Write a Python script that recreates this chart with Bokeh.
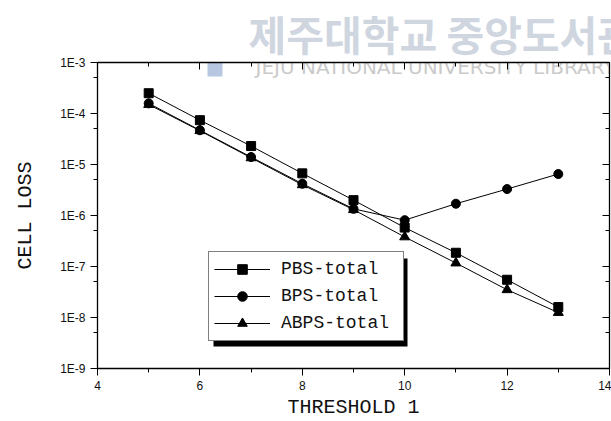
from bokeh.plotting import figure
from bokeh.models import (LinearAxis, LogAxis, Legend, LegendItem, FixedTicker,
                          CustomJSTickFormatter, BoxAnnotation, Label, Range1d, Title)
from bokeh.embed import file_html
from bokeh.resources import INLINE

# Cell loss versus threshold 1 for the three buffer schemes
threshold = [5, 6, 7, 8, 9, 10, 11, 12, 13]
pbs_total = [2.5e-4, 7.4e-5, 2.3e-5, 6.7e-6, 2.0e-6, 5.8e-7, 1.86e-7, 5.5e-8, 1.6e-8]
bps_total = [1.58e-4, 4.7e-5, 1.4e-5, 4.2e-6, 1.35e-6, 8.1e-7, 1.7e-6, 3.3e-6, 6.5e-6]
abps_total = [1.5e-4, 4.6e-5, 1.35e-5, 4.0e-6, 1.3e-6, 3.8e-7, 1.17e-7, 3.5e-8, 1.25e-8]

series_names = ["PBS-total", "BPS-total", "ABPS-total"]

x_ticks = [4, 6, 8, 10, 12, 14]
x_minor = [5, 7, 9, 11, 13]
y_ticks = [1e-9, 1e-8, 1e-7, 1e-6, 1e-5, 1e-4, 1e-3]
y_tick_labels = ["1E-9", "1E-8", "1E-7", "1E-6", "1E-5", "1E-4", "1E-3"]
y_minor = [5e-9, 5e-8, 5e-7, 5e-6, 5e-5, 5e-4]

wm_color = "#c3cbd8"

p = figure(width=611, height=421, y_axis_type="log",
           x_range=Range1d(4, 14), y_range=Range1d(1e-9, 1e-3),
           output_backend="svg", toolbar_location=None,
           min_border_left=97, min_border_top=61, min_border_right=2,
           min_border_bottom=52)
p.xgrid.visible = False
p.ygrid.visible = False
p.outline_line_color = "black"
p.background_fill_color = "white"
p.border_fill_color = "white"

# library stamp above the frame
p.title = Title(text="제주대학교 중앙도서관", align="left", offset=151,
                text_font="Noto Sans CJK KR", text_font_size="41px",
                text_font_style="bold", text_color=wm_color, text_alpha=0.8,
                standoff=0)

tick_font = "Liberation Sans"
title_font = "Liberation Mono"

# bottom / left axes with labels
xa = p.xaxis[0]
xa.ticker = FixedTicker(ticks=x_ticks, minor_ticks=x_minor)
xa.axis_label = "THRESHOLD 1"
ya = p.yaxis[0]
ya.ticker = FixedTicker(ticks=y_ticks, minor_ticks=y_minor)
ya.formatter = CustomJSTickFormatter(
    args=dict(vals=y_ticks, labels=y_tick_labels),
    code="const i = vals.findIndex(v => Math.abs(v - tick) <= 1e-6 * v); return i >= 0 ? labels[i] : '';")
ya.axis_label = "CELL LOSS"

for ax in (xa, ya):
    ax.axis_line_color = "black"
    ax.axis_line_width = 1.3
    ax.major_tick_out = 7
    ax.major_tick_in = 0
    ax.minor_tick_out = 4
    ax.minor_tick_in = 0
    ax.major_tick_line_color = "black"
    ax.minor_tick_line_color = "black"
    ax.major_label_text_font = tick_font
    ax.major_label_text_font_size = "12px"
    ax.major_label_text_color = "#111111"
    ax.axis_label_text_font = title_font
    ax.axis_label_text_font_size = "20px"
    ax.axis_label_text_font_style = "normal"
    ax.axis_label_text_color = "#111111"
xa.major_label_standoff = 5
xa.axis_label_standoff = 3
ya.major_label_standoff = 5
ya.axis_label_standoff = 20

# top / right axes carry only inward ticks
top = LinearAxis(ticker=FixedTicker(ticks=x_ticks, minor_ticks=x_minor))
right = LogAxis(ticker=FixedTicker(ticks=y_ticks, minor_ticks=y_minor))
for ax in (top, right):
    ax.major_tick_in = 7
    ax.major_tick_out = 0
    ax.minor_tick_in = 4
    ax.minor_tick_out = 0
    ax.axis_line_width = 1.3
    ax.major_label_text_color = None
    ax.major_label_text_font_size = "1px"
    ax.major_label_standoff = 0
p.add_layout(top, "above")
p.add_layout(right, "right")

# faint stamp inside the frame (screen offsets from the frame's lower-left corner)
p.add_layout(BoxAnnotation(left=110, right=125, top=341, bottom=292,
                           left_units="screen", right_units="screen",
                           top_units="screen", bottom_units="screen",
                           fill_color="#9fb4d8", fill_alpha=0.75, line_color=None,
                           level="underlay"))
p.add_layout(Label(x=158, y=290, x_units="screen", y_units="screen",
                   text="JEJU NATIONAL UNIVERSITY LIBRARY", text_font="DejaVu Sans",
                   text_font_size="20px", text_color="#cacaca",
                   text_baseline="bottom", level="underlay"))

# data series
r_pbs = [p.line(threshold, pbs_total, line_color="black", line_width=1),
         p.scatter(threshold, pbs_total, marker="square", size=9, color="black")]
r_bps = [p.line(threshold, bps_total, line_color="black", line_width=1),
         p.scatter(threshold, bps_total, marker="circle", size=9, color="black")]
r_abps = [p.line(threshold, abps_total, line_color="black", line_width=1),
          p.scatter(threshold, abps_total, marker="triangle", size=10, color="black")]

# legend with a drop shadow
p.add_layout(BoxAnnotation(left=116, right=310, top=110, bottom=22,
                           left_units="screen", right_units="screen",
                           top_units="screen", bottom_units="screen",
                           fill_color="black", fill_alpha=1, line_color=None))
legend = Legend(items=[LegendItem(label=series_names[0], renderers=r_pbs),
                       LegendItem(label=series_names[1], renderers=r_bps),
                       LegendItem(label=series_names[2], renderers=r_abps)],
                location=(111, 27), orientation="vertical",
                border_line_color="black", border_line_width=1,
                background_fill_color="white", background_fill_alpha=1,
                label_text_font=title_font, label_text_font_size="18px",
                label_text_color="#111111",
                glyph_width=56, glyph_height=24, label_height=24, label_width=117,
                label_standoff=11, padding=5, spacing=3, margin=0)
p.add_layout(legend, "center")

open("out.html", "w").write(file_html(p, INLINE))
